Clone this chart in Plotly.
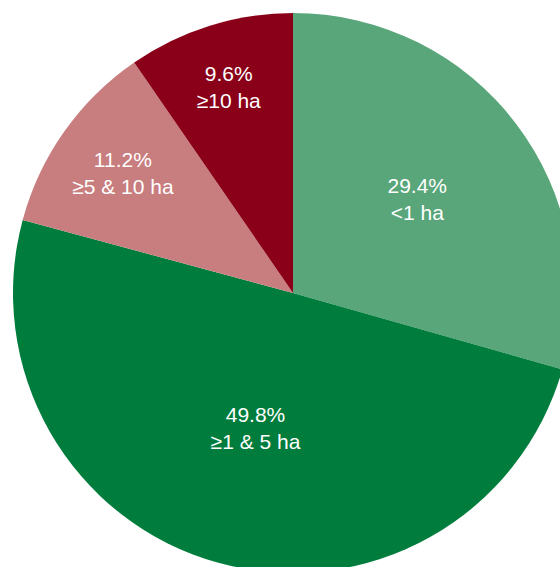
import plotly.graph_objects as go

labels = ["<1 ha", "≥1 & 5 ha", "≥5 & 10 ha", "≥10 ha"]
values = [29.4, 49.8, 11.2, 9.6]
colors = ["#58a67a", "#007d3c", "#c87d7e", "#8b0019"]

fig = go.Figure(go.Pie(
    labels=labels,
    values=values,
    sort=False,
    direction="clockwise",
    rotation=0,
    marker=dict(colors=colors, line=dict(width=0)),
    texttemplate="%{value:.1f}%<br>%{label}",
    textposition="inside",
    insidetextorientation="horizontal",
    textfont=dict(family="Liberation Sans", size=21, color="white"),
    hoverinfo="skip",
))
fig.update_layout(
    width=586, height=586,
    margin=dict(l=13, r=13, t=13, b=13),
    showlegend=False,
    paper_bgcolor="white",
)
fig.write_html(
    "out.html",
    config={"displayModeBar": False},
    post_script="document.body.style.margin='0';document.documentElement.style.overflow='hidden';document.body.style.overflow='hidden';",
)
